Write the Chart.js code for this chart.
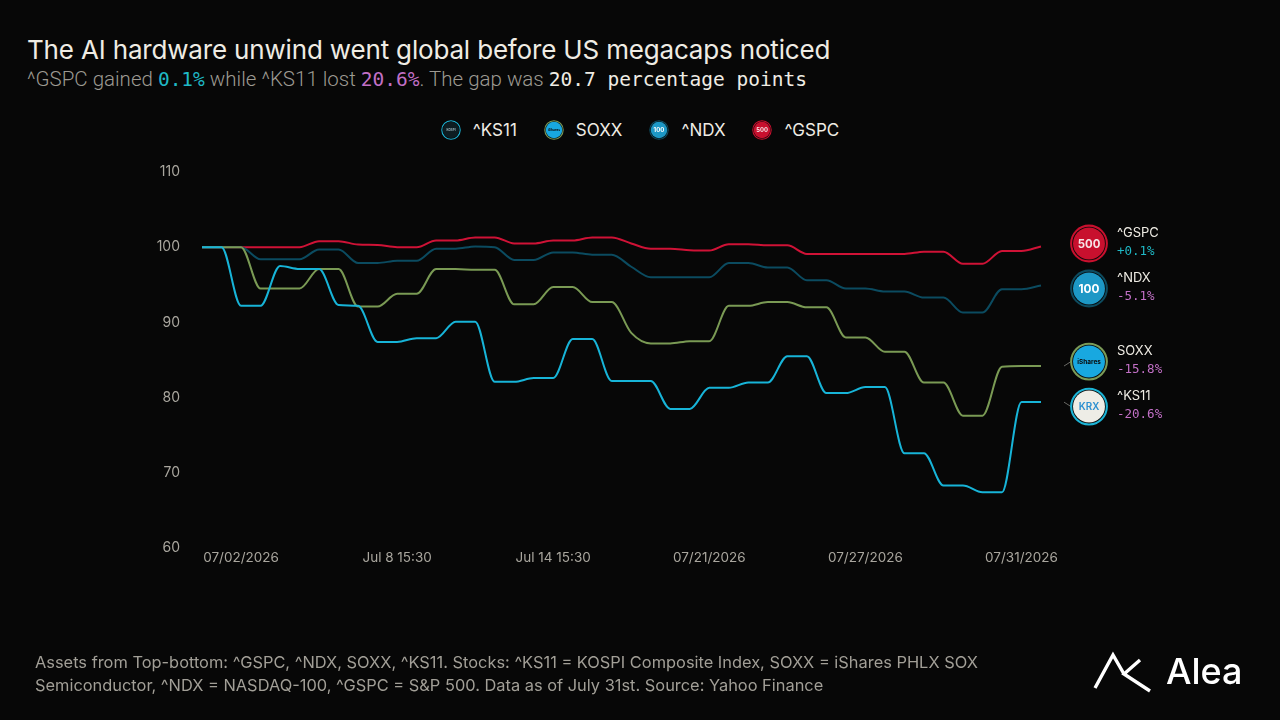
<!DOCTYPE html>
<html>
<head>
<meta charset="utf-8">
<title>The AI hardware unwind went global</title>
<script src="https://cdn.jsdelivr.net/npm/chart.js@4.4.1/dist/chart.umd.min.js"></script>
<style>
    html, body {
        margin: 0;
        padding: 0;
        background: #070707;
    }
    #wrap {
        position: relative;
        width: 1280px;
        height: 720px;
        overflow: hidden;
        font-family: Inter, "Noto Sans", sans-serif;
        color: #efece4;
    }
    #chart {
        position: absolute;
        left: 0;
        top: 0;
    }
    .title {
        position: absolute;
        left: 27px;
        top: 34px;
        margin: 0;
        font-size: 26px;
        font-weight: 400;
        letter-spacing: -0.17px;
        white-space: nowrap;
    }
    .subtitle {
        position: absolute;
        left: 27px;
        top: 67px;
        font-family: Roboto, sans-serif;
        font-size: 20.5px;
        font-weight: 300;
        color: #9d9a92;
        white-space: nowrap;
    }
    .mono {
        font-family: "DejaVu Sans Mono", monospace;
        font-size: 19.5px;
    }
    .up { color: #1fb9c6; }
    .down { color: #c270c6; }
    .plain { color: #efece4; }
    #legend {
        position: absolute;
        left: 0;
        width: 1280px;
        top: 118px;
        height: 24px;
        display: flex;
        justify-content: center;
        align-items: center;
        gap: 27px;
        font-size: 17px;
    }
    #legend .item {
        display: flex;
        align-items: center;
        gap: 12px;
    }
    .footer {
        position: absolute;
        left: 35px;
        top: 651px;
        font-size: 16.4px;
        line-height: 22.5px;
        color: #a29f97;
        white-space: nowrap;
    }
    .logo {
        position: absolute;
        left: 1090px;
        top: 650px;
        width: 160px;
        height: 44px;
    }
    .logo span {
        position: absolute;
        left: 76px;
        top: -1px;
        font-size: 36px;
        font-weight: 500;
        color: #ffffff;
        line-height: 44px;
    }
</style>
</head>
<body>
<div id="wrap">
    <h1 class="title">The AI hardware unwind went global before US megacaps noticed</h1>
    <div class="subtitle">^GSPC gained <span class="mono up">0.1%</span> while ^KS11 lost <span class="mono down">20.6%</span>. The gap was <span class="mono plain">20.7 percentage points</span></div>
    <div id="legend"></div>
    <canvas id="chart" width="1280" height="720"></canvas>
    <div class="footer">Assets from Top-bottom: ^GSPC, ^NDX, SOXX, ^KS11. Stocks: ^KS11 = KOSPI Composite Index, SOXX = iShares PHLX SOX<br>Semiconductor, ^NDX = NASDAQ-100, ^GSPC = S&amp;P 500. Data as of July 31st. Source: Yahoo Finance</div>
    <div class="logo">
        <svg width="62" height="44" viewBox="0 0 62 44">
            <g fill="none" stroke="#ffffff" stroke-width="3.4" stroke-linejoin="miter">
                <path d="M5 38 L23 5 L34 24"/>
                <path d="M50 10 L34 24 L60 41"/>
            </g>
        </svg>
        <span>Alea</span>
    </div>
</div>

<script>
// Rebased to 100 at the start of the window
const seriesNames = ['^KS11', 'SOXX', '^NDX', '^GSPC'];

const ks11 = [100, 100, 92.2, 92.2, 97.5, 97.1, 97.1, 92.3, 92.2, 87.4, 87.4, 87.9, 87.9, 90.1, 90.1,
    82.1, 82.1, 82.6, 82.6, 87.8, 87.8, 82.2, 82.2, 82.2, 78.5, 78.5, 81.3, 81.3, 82.0, 82.0,
    85.5, 85.5, 80.6, 80.6, 81.4, 81.4, 72.6, 72.6, 68.3, 68.3, 67.4, 67.4, 79.4, 79.4];

const soxx = [100, 100, 100, 94.5, 94.5, 94.5, 97.1, 97.1, 92.1, 92.1, 93.8, 93.8, 97.1, 97.1, 97.0,
    97.0, 92.4, 92.4, 94.7, 94.7, 92.7, 92.7, 88.6, 87.2, 87.2, 87.5, 87.5, 92.2, 92.2, 92.7,
    92.7, 92.0, 92.0, 88.0, 88.0, 86.1, 86.1, 82.0, 82.0, 77.6, 77.6, 84.1, 84.2, 84.2];

const ndx = [100, 100, 100, 98.4, 98.4, 98.4, 99.7, 99.7, 97.9, 97.9, 98.2, 98.2, 99.8, 99.8, 100.1,
    100.0, 98.3, 98.3, 99.3, 99.3, 99.0, 99.0, 97.4, 96.0, 96.0, 96.0, 96.0, 97.9, 97.9, 97.3,
    97.3, 95.6, 95.6, 94.5, 94.5, 94.1, 94.1, 93.3, 93.3, 91.3, 91.3, 94.4, 94.4, 94.9];

const gspc = [100, 100, 100, 100, 100, 100, 100.8, 100.8, 100.35, 100.3, 100.0, 100.0, 100.9, 100.9, 101.3,
    101.3, 100.5, 100.5, 100.9, 100.9, 101.3, 101.3, 100.5, 99.8, 99.8, 99.6, 99.55, 100.4, 100.4, 100.25,
    100.25, 99.1, 99.1, 99.1, 99.1, 99.1, 99.1, 99.4, 99.4, 97.8, 97.8, 99.5, 99.5, 100.1];

// x axis: the shown tick labels and the sample slot each one sits on
const tickLabels = ['07/02/2026', 'Jul 8 15:30', 'Jul 14 15:30', '07/21/2026', '07/27/2026', '07/31/2026'];
const tickSlots = [2, 10, 18, 26, 34, 42];

const yMin = 60;
const yMax = 110;
const yStep = 10;

const lineColors = ['#17b4d8', '#7a9a54', '#0b4b60', '#cf1236'];

// badge looks (end labels and legend)
const badges = [
    { ring: '#1cb4d6', fill: '#eeede6', ink: '#2b8fd0', text: 'KRX', scale: 0.52, weight: 600 },
    { ring: '#7b9b58', fill: '#18a8e0', ink: '#0a0a0a', text: 'iShares', scale: 0.34, weight: 700 },
    { ring: '#0d4b5f', fill: '#1d98c6', ink: '#ffffff', text: '100', scale: 0.62, weight: 700 },
    { ring: '#c8102e', fill: '#c8102e', ink: '#f6e4e6', text: '500', scale: 0.6, weight: 700 }
];
const legendBadges = [
    { ring: '#1cb4d6', fill: '#0d1d22', ink: '#9fb8c0', text: 'KOSPI', scale: 0.3, weight: 700 },
    badges[1], badges[2], badges[3]
];

const values = [ks11, soxx, ndx, gspc];
const categories = ks11.map((_, i) => {
    const k = tickSlots.indexOf(i);
    return k >= 0 ? tickLabels[k] : '';
});

function drawBadge(ctx, b, cx, cy, r) {
    ctx.save();
    ctx.beginPath();
    ctx.arc(cx, cy, r * 0.94, 0, Math.PI * 2);
    ctx.lineWidth = r * 0.11;
    ctx.strokeStyle = b.ring;
    ctx.stroke();
    ctx.beginPath();
    ctx.arc(cx, cy, r * 0.84, 0, Math.PI * 2);
    ctx.fillStyle = b.fill;
    ctx.fill();
    ctx.fillStyle = b.ink;
    ctx.font = `${b.weight} ${r * b.scale}px Inter`;
    ctx.textAlign = 'center';
    ctx.textBaseline = 'middle';
    ctx.fillText(b.text, cx, cy + r * 0.04);
    ctx.restore();
}

// Legend built from the dataset names
function buildLegend() {
    const legend = document.getElementById('legend');
    seriesNames.forEach((name, i) => {
        const item = document.createElement('div');
        item.className = 'item';
        const icon = document.createElement('canvas');
        const dpr = window.devicePixelRatio || 1;
        icon.width = 20 * dpr;
        icon.height = 20 * dpr;
        icon.style.width = '20px';
        icon.style.height = '20px';
        const ictx = icon.getContext('2d');
        ictx.scale(dpr, dpr);
        drawBadge(ictx, legendBadges[i], 10, 10, 9.8);
        const label = document.createElement('span');
        label.textContent = name;
        item.appendChild(icon);
        item.appendChild(label);
        legend.appendChild(item);
    });
}

// Badges + ticker + change at the right end of every line
const endLabels = {
    id: 'endLabels',
    afterDatasetsDraw(chart) {
        const { ctx, chartArea, scales: { y } } = chart;
        const gap = 45;
        const items = chart.data.datasets.map((ds, i) => {
            const first = ds.data[0];
            const last = ds.data[ds.data.length - 1];
            const lineY = y.getPixelForValue(last);
            return { i, name: ds.label, lineY, pos: lineY, change: (last / first - 1) * 100 };
        }).sort((a, b) => a.lineY - b.lineY);

        // push overlapping badges apart
        for (let pass = 0; pass < 20; pass++) {
            for (let k = 1; k < items.length; k++) {
                const d = items[k].pos - items[k - 1].pos;
                if (d < gap) {
                    const shift = (gap - d) / 2;
                    items[k].pos += shift;
                    items[k - 1].pos -= shift;
                }
            }
        }

        const bx = chartArea.right + 48;
        items.forEach(it => {
            if (it.i < 2) {
                ctx.save();
                ctx.strokeStyle = '#6a6a66';
                ctx.lineWidth = 1;
                ctx.beginPath();
                ctx.moveTo(chartArea.right + 23, it.lineY);
                ctx.lineTo(bx - 18, it.pos);
                ctx.stroke();
                ctx.restore();
            }
            drawBadge(ctx, badges[it.i], bx, it.pos, 19);

            ctx.save();
            ctx.textAlign = 'left';
            ctx.textBaseline = 'middle';
            ctx.fillStyle = '#efece4';
            ctx.font = '400 13px Inter';
            ctx.fillText(it.name, bx + 28, it.pos - 10);
            const sign = it.change >= 0 ? '+' : '-';
            ctx.fillStyle = it.change >= 0 ? '#1fb9c6' : '#c270c6';
            ctx.font = '12.5px "DejaVu Sans Mono"';
            ctx.fillText(sign + Math.abs(it.change).toFixed(1) + '%', bx + 28, it.pos + 8);
            ctx.restore();
        });
    }
};

function initChart() {
    Chart.defaults.font.family = 'Inter';
    Chart.defaults.color = '#a9a69e';

    const ctx = document.getElementById('chart').getContext('2d');
    new Chart(ctx, {
        type: 'line',
        data: {
            labels: categories,
            datasets: seriesNames.map((name, i) => ({
                label: name,
                data: values[i],
                borderColor: lineColors[i],
                borderWidth: 2,
                pointRadius: 0,
                pointHoverRadius: 0,
                fill: false,
                cubicInterpolationMode: 'monotone'
            }))
        },
        options: {
            responsive: false,
            animation: false,
            layout: {
                padding: { top: 172, left: 142, right: 239, bottom: 142 }
            },
            plugins: {
                legend: { display: false },
                tooltip: { enabled: false }
            },
            scales: {
                x: {
                    type: 'category',
                    offset: false,
                    grid: { display: false, drawTicks: false },
                    border: { display: false },
                    afterFit: s => { s.height = 30; },
                    ticks: {
                        autoSkip: false,
                        maxRotation: 0,
                        padding: 2,
                        font: { size: 13.5 },
                        callback: function (v) {
                            const lbl = this.getLabelForValue(v);
                            return lbl ? lbl : null;
                        }
                    }
                },
                y: {
                    min: yMin,
                    max: yMax,
                    grid: { display: false, drawTicks: false },
                    border: { display: false },
                    afterFit: s => { s.width = 60; },
                    ticks: {
                        stepSize: yStep,
                        padding: 22,
                        font: { size: 14 }
                    }
                }
            }
        },
        plugins: [endLabels]
    });
}

document.addEventListener('DOMContentLoaded', () => {
    buildLegend();
    initChart();
});
</script>
</body>
</html>
